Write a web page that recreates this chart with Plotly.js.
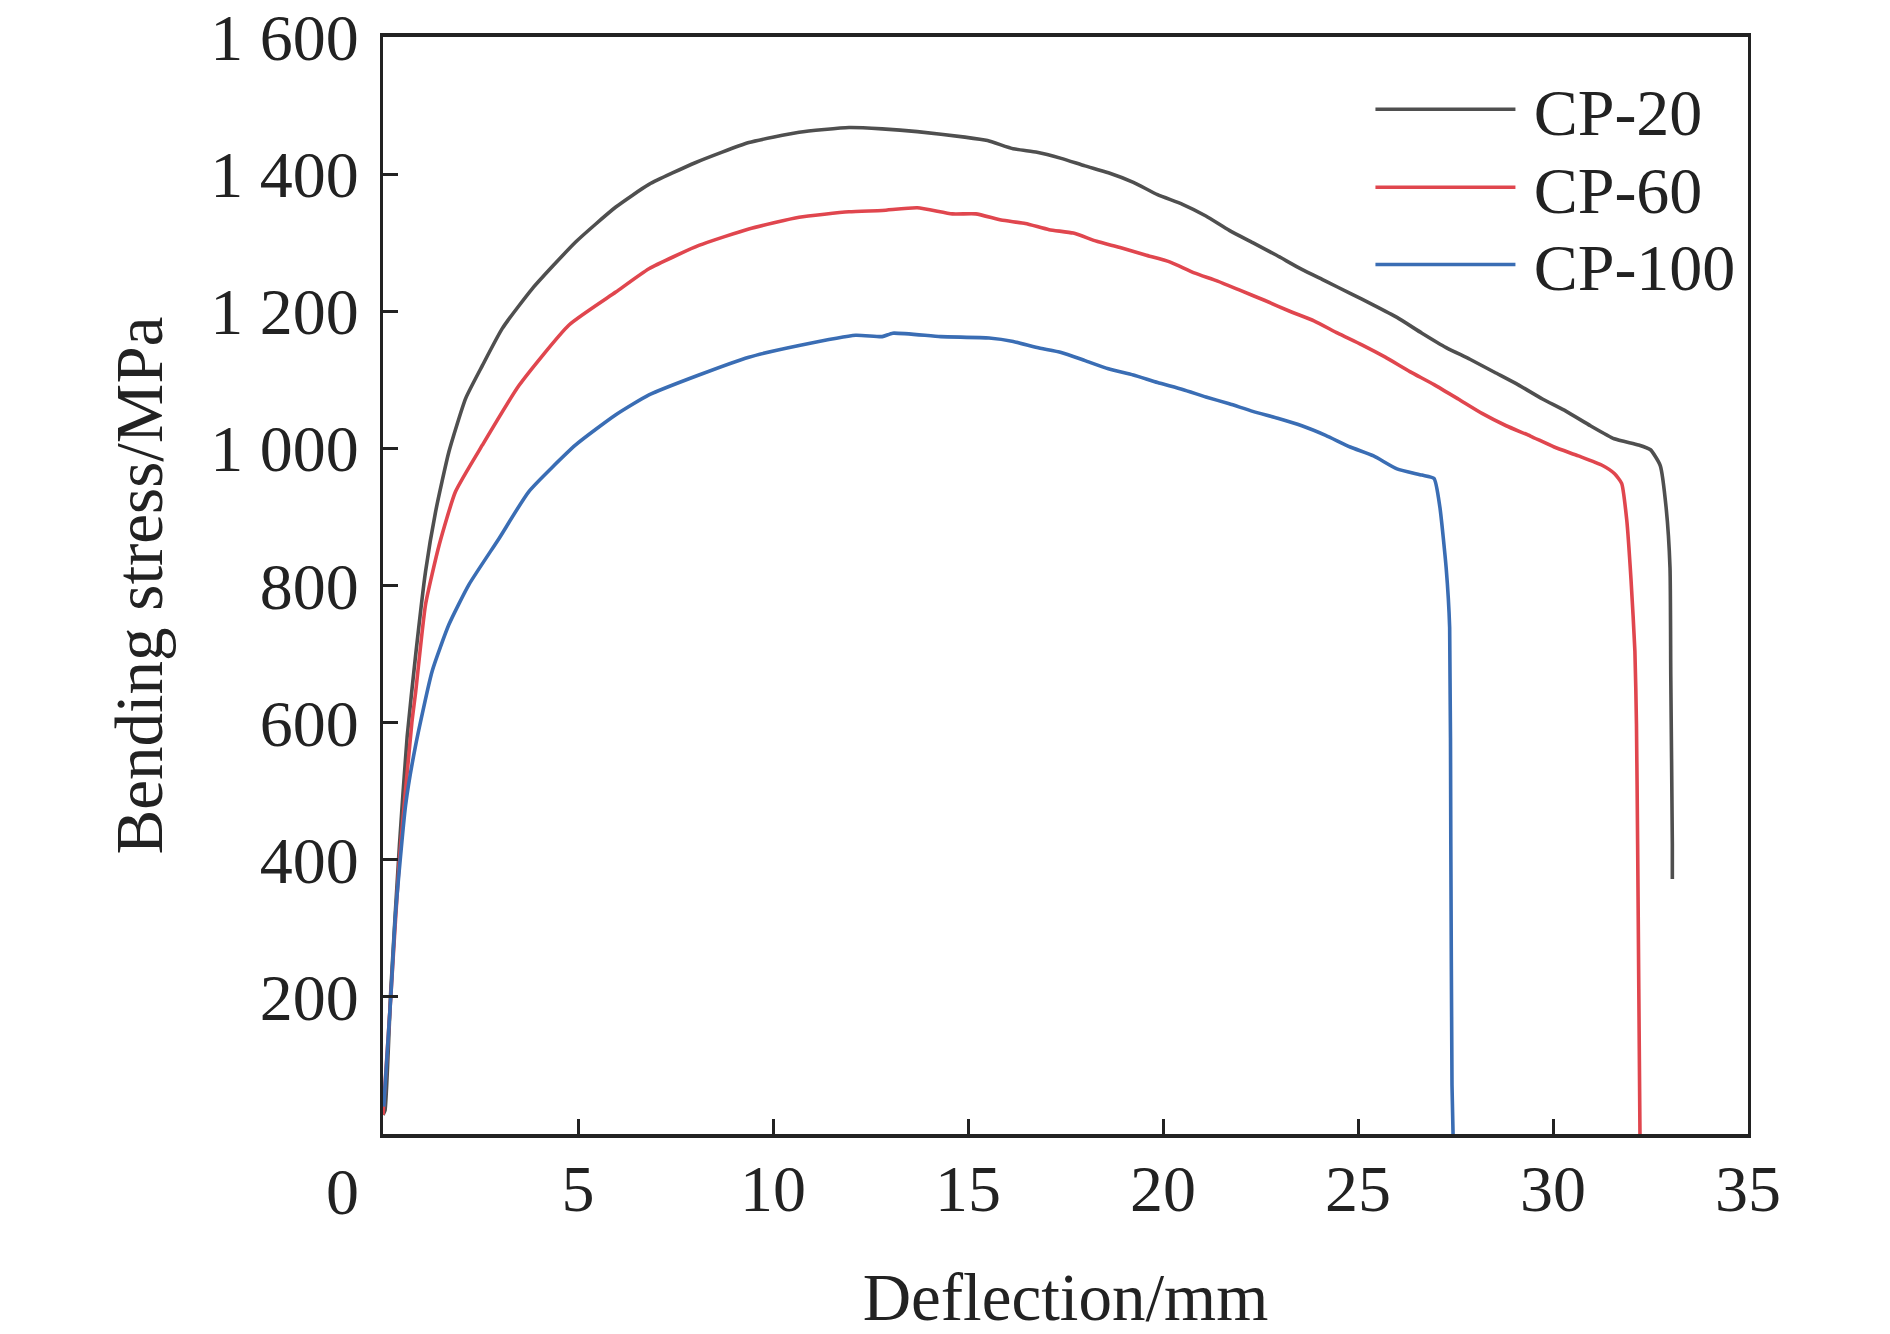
<!DOCTYPE html>
<html>
<head>
<meta charset="utf-8">
<script src="https://cdn.plot.ly/plotly-3.0.1.min.js"></script>
<style>
  html, body { margin: 0; padding: 0; background: #fff; }
  #chart { width: 1890px; height: 1334px; }
</style>
</head>
<body>
<div id="chart"></div>
<script>
// deflection (mm) / bending stress (MPa)
var cp20_x = [0, 0.05, 0.2, 0.42, 0.62, 0.84, 1.09, 1.35, 1.69, 2.12, 2.55, 3.06, 3.83, 4.94, 5.97, 6.82, 8.02, 9.38, 10.67, 11.95, 12.8, 13.7, 14.92, 15.5, 16.16, 16.77, 17.39, 18.0, 18.6, 19.24, 19.86, 20.5, 21.1, 21.7, 22.3, 22.9, 23.56, 24.17, 24.8, 25.4, 26.0, 26.64, 27.26, 27.87, 28.5, 29.1, 29.73, 30.34, 30.96, 31.57, 32.19, 32.5, 32.75, 32.9, 33.0, 33.02, 33.06, 33.06];
var cp20_y = [28, 34, 210, 420, 580, 700, 820, 908, 995, 1073, 1121, 1175, 1233, 1301, 1352, 1385, 1417, 1446, 1461, 1468, 1466, 1462, 1454, 1449, 1437, 1432, 1423, 1412, 1402, 1388, 1370, 1356, 1339, 1318, 1300, 1282, 1261, 1244, 1226, 1209, 1191, 1168, 1147, 1130, 1111, 1093, 1072, 1054, 1033, 1014, 1005, 998, 975, 914, 826, 668, 423, 372];

var cp60_x = [0, 0.2, 0.42, 0.74, 0.84, 1.09, 1.44, 1.86, 2.55, 3.49, 4.77, 5.97, 6.82, 8.1, 9.38, 10.67, 11.95, 12.8, 13.7, 14.6, 15.2, 15.85, 16.47, 17.08, 17.7, 18.3, 18.9, 19.55, 20.17, 20.8, 21.4, 22.0, 22.6, 23.25, 23.87, 24.48, 25.1, 25.7, 26.33, 26.95, 27.57, 28.18, 28.8, 29.42, 30.03, 30.65, 31.27, 31.58, 31.76, 31.89, 32.0, 32.1, 32.14, 32.17, 32.2, 32.23];
var cp60_y = [28, 200, 400, 600, 646, 772, 859, 937, 1005, 1092, 1180, 1228, 1262, 1296, 1320, 1337, 1345, 1347, 1351, 1342, 1342, 1333, 1328, 1319, 1314, 1302, 1293, 1282, 1272, 1256, 1244, 1230, 1216, 1200, 1186, 1168, 1151, 1133, 1112, 1093, 1072, 1051, 1033, 1018, 1002, 989, 975, 963, 949, 896, 809, 704, 598, 423, 212, 0];

var cp100_x = [0.02, 0.2, 0.32, 0.58, 0.84, 1.26, 1.69, 2.2, 2.98, 3.74, 4.94, 5.97, 6.82, 8.1, 9.38, 10.67, 12.12, 12.8, 13.07, 14.3, 15.54, 16.16, 16.77, 17.39, 18.0, 18.6, 19.24, 19.86, 20.5, 21.1, 21.7, 22.3, 22.94, 23.56, 24.17, 24.8, 25.4, 26.0, 26.64, 26.95, 27.1, 27.26, 27.35, 27.38, 27.41, 27.44];
var cp100_y = [40, 200, 320, 480, 568, 675, 743, 801, 869, 937, 1005, 1049, 1078, 1107, 1133, 1150, 1165, 1163, 1168, 1163, 1161, 1156, 1147, 1140, 1128, 1116, 1107, 1096, 1086, 1075, 1065, 1054, 1044, 1033, 1019, 1002, 989, 970, 961, 956, 914, 826, 739, 423, 72, -7];

var seriesNames = ['CP-20', 'CP-60', 'CP-100'];
var seriesColors = ['#4f4f4f', '#e0464e', '#3a6db4'];

var x_ticks = [5, 10, 15, 20, 25, 30, 35];
var y_ticks = [200, 400, 600, 800, 1000, 1200, 1400, 1600];
var y_labels = ['200', '400', '600', '800', '1 000', '1 200', '1 400', '1 600'];

var font = 'Liberation Serif, Times New Roman, serif';
var legendIds = ['legend', 'legend2', 'legend3'];
var legendRows = [0.934, 0.863, 0.7925];

function makeTrace(x, y, i) {
    return {
        // thin space widens the gap between legend line and label
        x: x, y: y, name: '\u2009' + seriesNames[i], legend: legendIds[i],
        type: 'scatter', mode: 'lines',
        line: {color: seriesColors[i], width: 3.6, shape: 'spline', smoothing: 0.5}
    };
}

function makeLegend(i) {
    return {
        x: 0.7234, y: legendRows[i], xanchor: 'left', yanchor: 'middle',
        bgcolor: 'rgba(0,0,0,0)', itemwidth: 140,
        font: {family: font, size: 66, color: '#222'}
    };
}

var data = [
    makeTrace(cp20_x, cp20_y, 0),
    makeTrace(cp60_x, cp60_y, 1),
    makeTrace(cp100_x, cp100_y, 2)
];

var layout = {
    width: 1890, height: 1334,
    margin: {l: 383, r: 142, t: 37, b: 200},
    paper_bgcolor: '#fff', plot_bgcolor: '#fff',
    font: {family: font, size: 66, color: '#222'},
    showlegend: true,
    legend: makeLegend(0),
    legend2: makeLegend(1),
    legend3: makeLegend(2),
    xaxis: {
        range: [0, 35], tickvals: x_ticks,
        ticks: 'inside', ticklen: 15, tickwidth: 3, tickcolor: '#222',
        showline: true, linewidth: 4, linecolor: '#222', mirror: true,
        showgrid: false, zeroline: false,
        ticklabelstandoff: -6,
        tickfont: {family: font, size: 66, color: '#222'},
        title: {text: 'Deflection/mm', standoff: 85, font: {family: font, size: 67, color: '#222'}}
    },
    yaxis: {
        range: [0, 1600], tickvals: y_ticks, ticktext: y_labels,
        ticks: 'inside', ticklen: 15, tickwidth: 3, tickcolor: '#222',
        showline: true, linewidth: 3, linecolor: '#222', mirror: true,
        showgrid: false, zeroline: false,
        ticklabelstandoff: 8,
        tickfont: {family: font, size: 66, color: '#222'},
        title: {text: 'Bending stress/MPa', standoff: 26, font: {family: font, size: 67, color: '#222'}}
    },
    annotations: [{
        text: '0', xref: 'paper', yref: 'paper', x: -0.030, y: -0.052,
        xanchor: 'center', yanchor: 'middle', showarrow: false,
        font: {family: font, size: 66, color: '#222'}
    }]
};

Plotly.newPlot('chart', data, layout, {staticPlot: true});
</script>
</body>
</html>
